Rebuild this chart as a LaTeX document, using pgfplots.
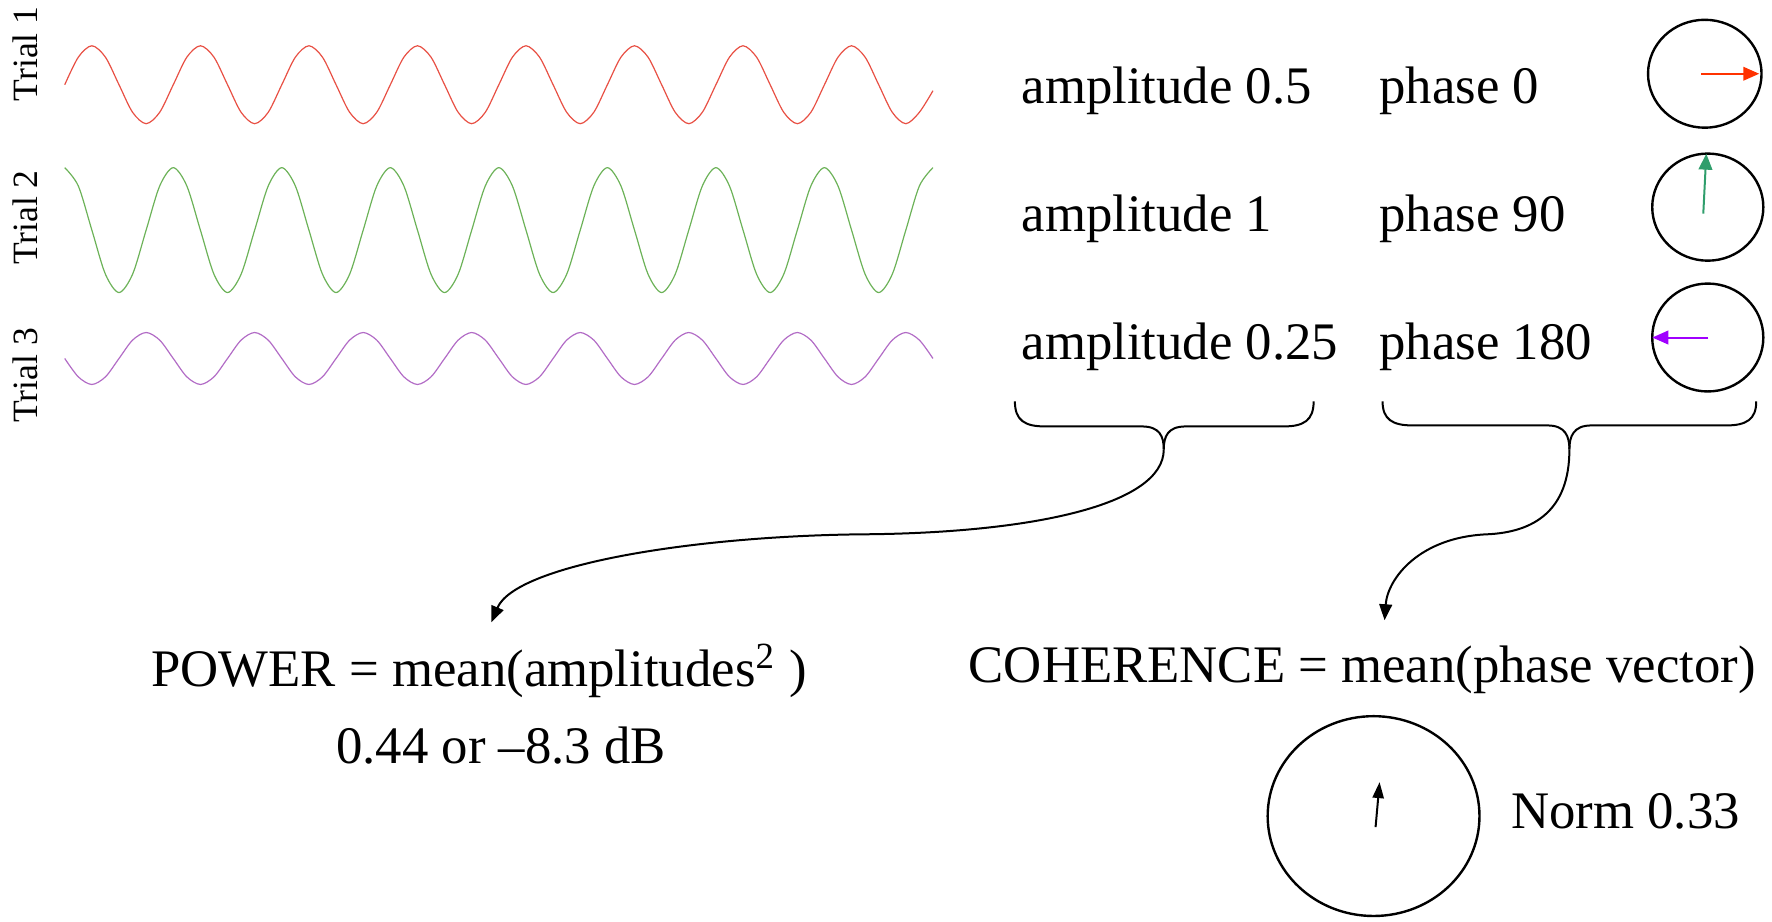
\documentclass[border=0pt]{standalone}
\usepackage{pgfplots}
\pgfplotsset{compat=1.18}
\usepackage{pgfplotstable}
\usepackage{fontspec}
\setmainfont{Liberation Serif}
\usetikzlibrary{arrows.meta}
\definecolor{wred}{RGB}{232,80,68}
\definecolor{wgreen}{RGB}{108,178,88}
\definecolor{wpurple}{RGB}{178,108,198}
\definecolor{ared}{RGB}{255,50,0}
\definecolor{agreen}{RGB}{48,158,108}
\definecolor{apurple}{RGB}{160,0,255}

% waves: k = sample index (8 samples per cycle), y in picture units
\pgfplotstableread{
k y1 y2 y3
0 84 167 358
1 56.42 185.31 376.38
2 45 229.5 384
3 56.42 273.69 376.38
4 84 292 358
5 111.58 273.69 339.62
6 123 229.5 332
7 111.58 185.31 339.62
8 84 167 358
9 56.42 185.31 376.38
10 45 229.5 384
11 56.42 273.69 376.38
12 84 292 358
13 111.58 273.69 339.62
14 123 229.5 332
15 111.58 185.31 339.62
16 84 167 358
17 56.42 185.31 376.38
18 45 229.5 384
19 56.42 273.69 376.38
20 84 292 358
21 111.58 273.69 339.62
22 123 229.5 332
23 111.58 185.31 339.62
24 84 167 358
25 56.42 185.31 376.38
26 45 229.5 384
27 56.42 273.69 376.38
28 84 292 358
29 111.58 273.69 339.62
30 123 229.5 332
31 111.58 185.31 339.62
32 84 167 358
33 56.42 185.31 376.38
34 45 229.5 384
35 56.42 273.69 376.38
36 84 292 358
37 111.58 273.69 339.62
38 123 229.5 332
39 111.58 185.31 339.62
40 84 167 358
41 56.42 185.31 376.38
42 45 229.5 384
43 56.42 273.69 376.38
44 84 292 358
45 111.58 273.69 339.62
46 123 229.5 332
47 111.58 185.31 339.62
48 84 167 358
49 56.42 185.31 376.38
50 45 229.5 384
51 56.42 273.69 376.38
52 84 292 358
53 111.58 273.69 339.62
54 123 229.5 332
55 111.58 185.31 339.62
56 84 167 358
57 56.42 185.31 376.38
58 45 229.5 384
59 56.42 273.69 376.38
60 84 292 358
61 111.58 273.69 339.62
62 123 229.5 332
63 111.58 185.31 339.62
64 90 167 358
}\waves

\newcommand{\bigtxt}{\fontsize{13.2}{15}\selectfont}
\begin{document}
\begin{tikzpicture}
\begin{axis}[
  scale only axis, width=443pt, height=230.25pt,
  xmin=0, xmax=1772, ymin=0, ymax=921, y dir=reverse,
  hide axis, clip=false,
]
\draw[white] (axis cs:0,0) rectangle (axis cs:1772,921);

% waves
\addplot[wred, line width=0.3pt, smooth, no marks] table[x expr=64+\thisrow{k}*13.578, y=y1] {\waves};
\addplot[wgreen, line width=0.3pt, smooth, no marks] table[x expr=64+\thisrow{k}*13.578, y=y2] {\waves};
\addplot[wpurple, line width=0.3pt, smooth, no marks] table[x expr=64+\thisrow{k}*13.578, y=y3] {\waves};

% trial labels
\node[rotate=90, inner sep=0pt, font=\fontsize{8.9}{10}\selectfont] at (axis cs:25,53) {Trial 1};
\node[rotate=90, inner sep=0pt, font=\fontsize{8.9}{10}\selectfont] at (axis cs:25,217) {Trial 2};
\node[rotate=90, inner sep=0pt, font=\fontsize{8.9}{10}\selectfont] at (axis cs:25,375) {Trial 3};

% amplitude / phase texts
\node[anchor=base west, inner sep=0pt, font=\bigtxt] at (axis cs:1021,103) {amplitude 0.5};
\node[anchor=base west, inner sep=0pt, font=\bigtxt] at (axis cs:1021,231) {amplitude 1};
\node[anchor=base west, inner sep=0pt, font=\bigtxt] at (axis cs:1021,359) {amplitude 0.25};
\node[anchor=base west, inner sep=0pt, font=\bigtxt] at (axis cs:1379,103) {phase 0};
\node[anchor=base west, inner sep=0pt, font=\bigtxt] at (axis cs:1379,231) {phase 90};
\node[anchor=base west, inner sep=0pt, font=\bigtxt] at (axis cs:1379,359) {phase 180};

% phase circles
\draw[line width=0.6pt] (axis cs:1705.5,73) ellipse [x radius=14.2pt, y radius=13.5pt];
\draw[line width=0.6pt] (axis cs:1708.5,206.5) ellipse [x radius=13.9pt, y radius=13.4pt];
\draw[line width=0.6pt] (axis cs:1708.5,337) ellipse [x radius=13.9pt, y radius=13.5pt];
\draw[line width=0.6pt] (axis cs:1374,816) ellipse [x radius=26.5pt, y radius=25pt];

% phase vectors
\addplot[ared, line width=0.5pt, -{Triangle[length=4pt,width=3.4pt]}] coordinates {(1702,73) (1760,73)};
\addplot[agreen, line width=0.5pt, -{Triangle[length=4pt,width=3.4pt]}] coordinates {(1704,213) (1707,153)};
\addplot[apurple, line width=0.5pt, -{Triangle[length=4pt,width=3.4pt]}] coordinates {(1709,337) (1653,337)};
\addplot[black, line width=0.5pt, -{Triangle[length=4pt,width=2.8pt]}] coordinates {(1376,827) (1380,782)};

% braces
\draw[line width=0.5pt] (axis cs:1015,401) .. controls (axis cs:1015,420) and (axis cs:1025,426) .. (axis cs:1045,426)
  -- (axis cs:1142,426) .. controls (axis cs:1160,426) and (axis cs:1164,436) .. (axis cs:1164,449);
\draw[line width=0.5pt] (axis cs:1314,401) .. controls (axis cs:1314,420) and (axis cs:1304,426) .. (axis cs:1284,426)
  -- (axis cs:1186,426) .. controls (axis cs:1168,426) and (axis cs:1164,436) .. (axis cs:1164,449);
\draw[line width=0.5pt] (axis cs:1383,401) .. controls (axis cs:1383,419) and (axis cs:1393,425) .. (axis cs:1413,425)
  -- (axis cs:1548,425) .. controls (axis cs:1566,425) and (axis cs:1570,436) .. (axis cs:1570,449);
\draw[line width=0.5pt] (axis cs:1757,401) .. controls (axis cs:1757,419) and (axis cs:1747,425) .. (axis cs:1727,425)
  -- (axis cs:1592,425) .. controls (axis cs:1574,425) and (axis cs:1570,436) .. (axis cs:1570,449);

% curved arrows
\draw[line width=0.5pt, -{Triangle[length=4pt,width=3.2pt]}] (axis cs:1164,449)
  .. controls (axis cs:1164,505) and (axis cs:1030,533) .. (axis cs:860,534)
  .. controls (axis cs:690,536) and (axis cs:515,565) .. (axis cs:491,622);
\draw[line width=0.5pt, -{Triangle[length=4pt,width=3.2pt]}] (axis cs:1570,449)
  .. controls (axis cs:1570,510) and (axis cs:1535,532) .. (axis cs:1487,534)
  .. controls (axis cs:1420,537) and (axis cs:1388,578) .. (axis cs:1385,620);

% bottom texts
\node[anchor=base west, inner sep=0pt, font=\bigtxt] at (axis cs:150,686) {POWER = mean(amplitudes\textsuperscript{2} )};
\node[anchor=base west, inner sep=0pt, font=\bigtxt] at (axis cs:335,763) {0.44 or \textendash8.3 dB};
\node[anchor=base west, inner sep=0pt, font=\bigtxt] at (axis cs:968,682) {COHERENCE = mean(phase vector)};
\node[anchor=base west, inner sep=0pt, font=\bigtxt] at (axis cs:1511,828) {Norm 0.33};
\end{axis}
\end{tikzpicture}
\end{document}
